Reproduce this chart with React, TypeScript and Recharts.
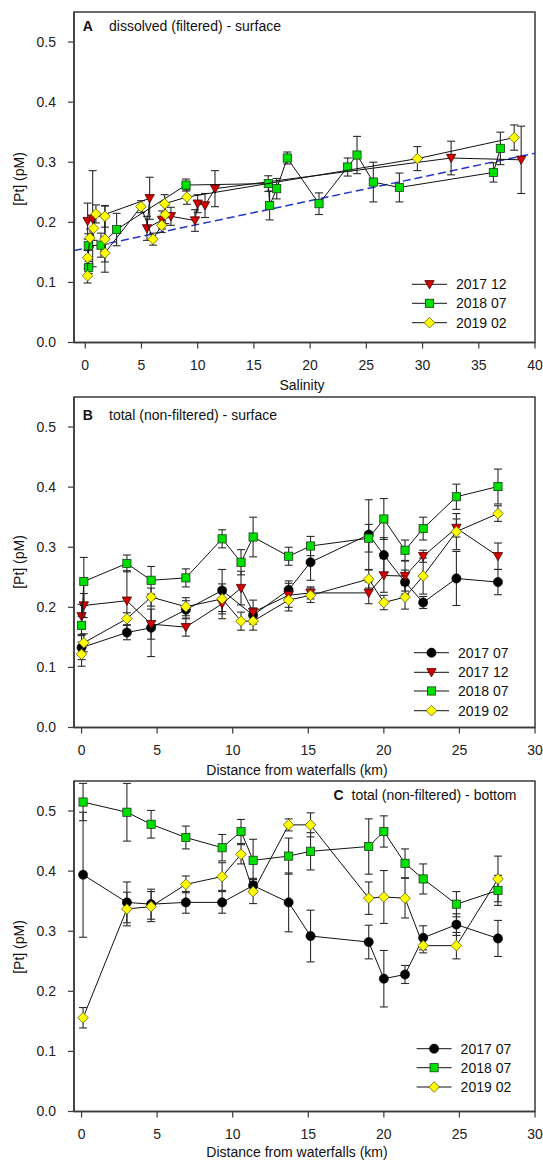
import React from 'react';
import { ScatterChart, Scatter, XAxis, YAxis, ErrorBar, ReferenceArea, ReferenceLine } from 'recharts';

const FONT = '"Liberation Sans", Arial, Helvetica, sans-serif';
const AXIS = '#3a3a3a';

// ---------- shared ticks ----------
const yTicks = [0, 0.1, 0.2, 0.3, 0.4, 0.5];
const salTicks = [0, 5, 10, 15, 20, 25, 30, 35, 40];
const distTicks = [0, 5, 10, 15, 20, 25, 30];

// ---------- Panel A: dissolved (filtered) - surface (x = salinity) ----------
const aSal1712 = [0.21, 0.66, 5.73, 5.49, 6.84, 7.62, 9.76, 10.0, 10.65, 11.54, 32.54, 38.77];
const aPt1712 = [0.202, 0.206, 0.24, 0.19, 0.204, 0.21, 0.203, 0.231, 0.228, 0.256, 0.307, 0.304];
const aSd1712 = [0.03, 0.08, 0.035, 0.02, 0.015, 0.015, 0.018, 0.015, 0.02, 0.03, 0.028, 0.056];

const aSal1807 = [0.31, 0.27, 1.4, 2.79, 8.96, 16.28, 16.4, 17.03, 17.97, 20.79, 23.34, 24.17, 25.62, 27.94, 36.3, 36.92];
const aPt1807 = [0.125, 0.161, 0.162, 0.188, 0.262, 0.2645, 0.228, 0.256, 0.307, 0.231, 0.292, 0.312, 0.267, 0.258, 0.283, 0.323];
const aSd1807 = [0.01, 0.02, 0.02, 0.027, 0.01, 0.013, 0.024, 0.017, 0.01, 0.018, 0.015, 0.031, 0.033, 0.024, 0.016, 0.027];

const aSal1902 = [0.21, 0.21, 0.42, 0.74, 0.95, 1.75, 1.75, 1.75, 4.96, 6.02, 6.8, 7.12, 7.06, 9.04, 29.54, 38.15];
const aPt1902 = [0.111, 0.141, 0.174, 0.19, 0.214, 0.21, 0.172, 0.149, 0.226, 0.172, 0.195, 0.213, 0.231, 0.242, 0.306, 0.341];
const aSd1902 = [0.012, 0.012, 0.015, 0.02, 0.015, 0.018, 0.055, 0.015, 0.01, 0.01, 0.012, 0.015, 0.015, 0.012, 0.02, 0.021];

const trendSal = [-1, 40];
const trendPt = [0.153, 0.315];

// ---------- Panel B: total (non-filtered) - surface (x = distance) ----------
const bDist1707 = [0.0, 3.0, 4.6, 6.9, 9.3, 11.35, 13.7, 15.15, 19.0, 20.0, 21.4, 22.6, 24.8, 27.55];
const bPt1707 = [0.133, 0.158, 0.166, 0.196, 0.228, 0.187, 0.229, 0.275, 0.321, 0.287, 0.242, 0.208, 0.248, 0.242];
const bSd1707 = [0.02, 0.012, 0.048, 0.015, 0.035, 0.012, 0.015, 0.03, 0.058, 0.029, 0.02, 0.01, 0.045, 0.021];

const bDist = [0.0, 0.15, 3.0, 4.6, 6.9, 9.3, 10.55, 11.35, 13.7, 15.15, 19.0, 20.0, 21.4, 22.6, 24.8, 27.55];
const bPt1712 = [0.185, 0.203, 0.211, 0.172, 0.167, 0.206, 0.232, 0.192, 0.22, 0.224, 0.224, 0.253, 0.252, 0.285, 0.332, 0.285];
const bSd1712 = [0.02, 0.02, 0.05, 0.025, 0.015, 0.025, 0.028, 0.02, 0.02, 0.01, 0.018, 0.028, 0.025, 0.01, 0.015, 0.022];
const bPt1807 = [0.17, 0.243, 0.273, 0.245, 0.249, 0.314, 0.275, 0.317, 0.285, 0.302, 0.315, 0.347, 0.295, 0.331, 0.384, 0.401];
const bSd1807 = [0.015, 0.04, 0.014, 0.023, 0.015, 0.015, 0.021, 0.033, 0.015, 0.016, 0.023, 0.034, 0.017, 0.019, 0.021, 0.029];
const bPt1902 = [0.122, 0.141, 0.181, 0.217, 0.201, 0.214, 0.177, 0.177, 0.212, 0.22, 0.247, 0.208, 0.217, 0.252, 0.326, 0.356];
const bSd1902 = [0.02, 0.015, 0.01, 0.015, 0.015, 0.025, 0.015, 0.015, 0.018, 0.012, 0.015, 0.012, 0.02, 0.03, 0.03, 0.013];

// ---------- Panel C: total (non-filtered) - bottom (x = distance) ----------
const cDist1707 = [0.1, 3.0, 4.6, 6.9, 9.3, 11.35, 13.7, 15.15, 19.0, 20.0, 21.4, 22.6, 24.8, 27.55];
const cPt1707 = [0.394, 0.348, 0.345, 0.348, 0.348, 0.376, 0.348, 0.292, 0.282, 0.221, 0.228, 0.289, 0.311, 0.288];
const cSd1707 = [0.104, 0.034, 0.025, 0.018, 0.018, 0.012, 0.049, 0.043, 0.028, 0.047, 0.015, 0.02, 0.018, 0.03];

const cDist = [0.1, 3.0, 4.6, 6.9, 9.3, 10.55, 11.35, 13.7, 15.15, 19.0, 20.0, 21.4, 22.6, 24.8, 27.55];
const cPt1807 = [0.515, 0.498, 0.478, 0.456, 0.439, 0.466, 0.418, 0.425, 0.433, 0.441, 0.466, 0.413, 0.387, 0.345, 0.368];
const cSd1807 = [0.031, 0.048, 0.023, 0.019, 0.022, 0.02, 0.035, 0.03, 0.031, 0.046, 0.026, 0.024, 0.025, 0.021, 0.025];
const cPt1902 = [0.156, 0.337, 0.341, 0.378, 0.391, 0.428, 0.366, 0.477, 0.477, 0.355, 0.357, 0.355, 0.276, 0.276, 0.387];
const cSd1902 = [0.017, 0.028, 0.025, 0.014, 0.023, 0.016, 0.02, 0.01, 0.02, 0.027, 0.044, 0.033, 0.012, 0.022, 0.038];

type Kind = 'circle' | 'tri' | 'square' | 'diamond';
type Series = { name: string; kind: Kind; xs: number[]; ys: number[]; sd: number[] };

const build = (s: Series) => s.xs.map((x, i) => ({ x, y: s.ys[i], err: s.sd[i] }));

function Marker({ kind, cx, cy }: { kind: Kind; cx: number; cy: number }) {
  if (cx == null || cy == null) return null;
  switch (kind) {
    case 'circle':
      return <circle cx={cx} cy={cy} r={4.6} fill="#000" stroke="#000" strokeWidth={0.6} />;
    case 'tri':
      return (
        <path d={`M${cx - 4.7},${cy - 3.7}L${cx + 4.7},${cy - 3.7}L${cx},${cy + 4.6}Z`} fill="#d40000" stroke="#4a0000" strokeWidth={0.8} />
      );
    case 'square':
      return <rect x={cx - 4.1} y={cy - 4.1} width={8.2} height={8.2} fill="#00e000" stroke="#1b3d1b" strokeWidth={0.8} />;
    default:
      return (
        <path d={`M${cx},${cy - 5.3}L${cx + 5.3},${cy}L${cx},${cy + 5.3}L${cx - 5.3},${cy}Z`} fill="#ffff00" stroke="#5a5a10" strokeWidth={0.8} />
      );
  }
}

type PanelCfg = {
  top: number;
  height: number;
  xh: number;
  mb: number;
  xDomain: [number, number];
  xTicks: number[];
  series: Series[];
  letter: string;
  letterX: number;
  title: string;
  titleX: number;
  titleY: number;
  xTitle: string;
  xTitleX: number;
  xTitleY: number;
  yTitleY: number;
  legendX: number;
  legendYs: number[];
  trend?: boolean;
};

function Panel(cfg: PanelCfg) {
  const overlay = () => (
    <g fontFamily={FONT}>
      <text x={cfg.letterX} y={cfg.titleY} fontSize={14} fontWeight="bold" fill="#111">{cfg.letter}</text>
      <text x={cfg.titleX} y={cfg.titleY} fontSize={14} fill="#111">{cfg.title}</text>
      {cfg.series.map((s, i) => {
        const y = cfg.legendYs[i];
        return (
          <g key={s.name}>
            <line x1={cfg.legendX} x2={cfg.legendX + 35} y1={y} y2={y} stroke="#111" strokeWidth={1} />
            <Marker kind={s.kind} cx={cfg.legendX + 17.5} cy={y} />
            <text x={cfg.legendX + 44} y={y + 5} fontSize={14} fill="#111">{s.name}</text>
          </g>
        );
      })}
    </g>
  );
  const xTitle = () => (
    <text x={cfg.xTitleX} y={cfg.xTitleY} textAnchor="middle" fontSize={14} fontFamily={FONT} fill="#111">{cfg.xTitle}</text>
  );
  const yTitle = () => (
    <text x={19.5} y={cfg.yTitleY} dy="0.35em" transform={`rotate(-90, 19.5, ${cfg.yTitleY})`} textAnchor="middle" fontSize={14} fontFamily={FONT} fill="#111">[Pt] (pM)</text>
  );
  return (
    <div style={{ position: 'absolute', left: 0, top: cfg.top }}>
      <ScatterChart width={543} height={cfg.height} margin={{ top: 12, right: 8, bottom: cfg.mb, left: 24 }}>
        <XAxis
          type="number"
          dataKey="x"
          domain={cfg.xDomain}
          allowDataOverflow
          ticks={cfg.xTicks}
          interval={0}
          height={cfg.xh}
          tickSize={6}
          tickMargin={12}
          axisLine={{ stroke: AXIS, strokeWidth: 1.5 }}
          tickLine={{ stroke: AXIS, strokeWidth: 1.2 }}
          tick={{ fontSize: 14, fill: '#222', fontFamily: FONT }}
          label={{ content: xTitle }}
        />
        <YAxis
          type="number"
          dataKey="y"
          domain={[0, 0.55]}
          allowDataOverflow
          ticks={yTicks}
          interval={0}
          width={50}
          tickSize={6}
          tickMargin={12}
          tickFormatter={(v: number) => v.toFixed(1)}
          axisLine={{ stroke: AXIS, strokeWidth: 1.5 }}
          tickLine={{ stroke: AXIS, strokeWidth: 1.2 }}
          tick={{ fontSize: 14, fill: '#222', fontFamily: FONT }}
          label={{ content: yTitle }}
        />
        {cfg.trend && (
          <ReferenceLine
            segment={[
              { x: trendSal[0], y: trendPt[0] },
              { x: trendSal[1], y: trendPt[1] },
            ]}
            stroke="#2236c8"
            strokeWidth={1.5}
            strokeDasharray="8 4"
            ifOverflow="visible"
          />
        )}
        {cfg.series.map((s) => (
          <Scatter
            key={s.name}
            name={s.name}
            data={build(s)}
            isAnimationActive={false}
            line={{ stroke: '#111', strokeWidth: 1 }}
            shape={(p: any) => <Marker kind={s.kind} cx={p.cx} cy={p.cy} />}
          >
            <ErrorBar dataKey="err" direction="y" width={4} stroke="#2a2a2a" strokeWidth={1.1} isAnimationActive={false} />
          </Scatter>
        ))}
        <ReferenceArea
          x1={cfg.xDomain[0]}
          x2={cfg.xDomain[1]}
          y1={0}
          y2={0.55}
          fill="none"
          fillOpacity={0}
          stroke={AXIS}
          strokeWidth={1.5}
          ifOverflow="visible"
          label={{ content: overlay }}
        />
      </ScatterChart>
    </div>
  );
}

const seriesA: Series[] = [
  { name: '2017 12', kind: 'tri', xs: aSal1712, ys: aPt1712, sd: aSd1712 },
  { name: '2018 07', kind: 'square', xs: aSal1807, ys: aPt1807, sd: aSd1807 },
  { name: '2019 02', kind: 'diamond', xs: aSal1902, ys: aPt1902, sd: aSd1902 },
];
const seriesB: Series[] = [
  { name: '2017 07', kind: 'circle', xs: bDist1707, ys: bPt1707, sd: bSd1707 },
  { name: '2017 12', kind: 'tri', xs: bDist, ys: bPt1712, sd: bSd1712 },
  { name: '2018 07', kind: 'square', xs: bDist, ys: bPt1807, sd: bSd1807 },
  { name: '2019 02', kind: 'diamond', xs: bDist, ys: bPt1902, sd: bSd1902 },
];
const seriesC: Series[] = [
  { name: '2017 07', kind: 'circle', xs: cDist1707, ys: cPt1707, sd: cSd1707 },
  { name: '2018 07', kind: 'square', xs: cDist, ys: cPt1807, sd: cSd1807 },
  { name: '2019 02', kind: 'diamond', xs: cDist, ys: cPt1902, sd: cSd1902 },
];

export default function App() {
  return (
    <div style={{ position: 'absolute', left: 0, top: 0, width: 543, height: 1161, background: '#fff', overflow: 'hidden' }}>
      <Panel
        top={0}
        height={400}
        xh={50}
        mb={7.5}
        xDomain={[-1, 40]}
        xTicks={salTicks}
        series={seriesA}
        letter="A"
        letterX={82.8}
        title="dissolved (filtered) - surface"
        titleX={109}
        titleY={30.7}
        xTitle="Salinity"
        xTitleX={302}
        xTitleY={390}
        yTitleY={179}
        legendX={412}
        legendYs={[284.3, 303.3, 322.7]}
        trend
      />
      <Panel
        top={385}
        height={400}
        xh={50}
        mb={7.5}
        xDomain={[-0.5, 30]}
        xTicks={distTicks}
        series={seriesB}
        letter="B"
        letterX={82.8}
        title="total (non-filtered) - surface"
        titleX={109}
        titleY={35}
        xTitle="Distance from waterfalls (km)"
        xTitleX={297}
        xTitleY={390}
        yTitleY={177}
        legendX={414}
        legendYs={[267.7, 287.3, 306, 325.7]}
      />
      <Panel
        top={769}
        height={392}
        xh={45}
        mb={4.5}
        xDomain={[-0.5, 30]}
        xTicks={distTicks}
        series={seriesC}
        letter="C"
        letterX={333.4}
        title="total (non-filtered) - bottom"
        titleX={351.5}
        titleY={31}
        xTitle="Distance from waterfalls (km)"
        xTitleX={297}
        xTitleY={387.7}
        yTitleY={178}
        legendX={416.6}
        legendYs={[279.7, 298.7, 318]}
      />
    </div>
  );
}
